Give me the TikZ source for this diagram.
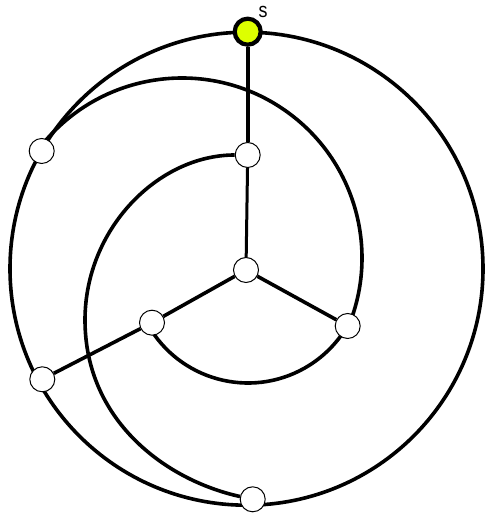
\documentclass[tikz,border=0pt]{standalone}
\usepackage{fontspec}
\setmainfont{Liberation Sans}
\usetikzlibrary{backgrounds}
\definecolor{srcfill}{RGB}{221,255,0}
\begin{document}
\begin{tikzpicture}[x=1pt,y=1pt,
  vtx/.style={circle,draw=black,fill=white,line width=1pt,minimum size=25pt,inner sep=0pt},
  srcvtx/.style={circle,draw=black,fill=srcfill,line width=4.2pt,minimum size=26pt,inner sep=0pt},
  edge/.style={draw=black,line width=3.6pt},
  lbl/.style={font=\fontsize{21}{21}\selectfont,inner sep=0pt}]
\useasboundingbox (0,0) rectangle (484,513);
% vertices
\node[srcvtx] (s) at (247.7,481.3) {};
\node[vtx] (a) at (41.7,362) {};
\node[vtx] (b) at (247.7,358) {};
\node[vtx] (c) at (246,243) {};
\node[vtx] (d) at (152,190.3) {};
\node[vtx] (e) at (347.7,187) {};
\node[vtx] (f) at (42.3,133.7) {};
\node[vtx] (g) at (252.7,13.7) {};
\node[lbl,xscale=0.85] (slabel) at (263,501) {s};
% centres of the circular connectors
\coordinate (O) at (246.5,244.3);
\coordinate (C1) at (182,255);
\coordinate (C2) at (248,245);
\coordinate (L) at (85,193);
\begin{scope}[on background layer]
  \fill[white] (0,0) rectangle (484,513);
  % outer ring through s, a, f, g
  \draw[edge] (O) circle[radius=236.5];
  % arc from a over the top to e
  \draw[edge] ([shift={(142.7:180)}]C1) arc[start angle=142.7,end angle=-22.3,radius=180];
  % inner arc from d below c to e
  \draw[edge] ([shift={(209.7:115)}]C2) arc[start angle=209.7,end angle=329.8,radius=115];
  % spiral from b round the left to g
  \draw[edge] (b) .. controls (158,358) and (85,284) .. (L)
                  .. controls (85,93) and (165,33) .. (g);
  % straight connectors
  \draw[edge,line width=3.9pt] (s) -- (b);
  \draw[edge,line width=3pt] (b) -- (c);
  \draw[edge] (c) -- (d);
  \draw[edge] (c) -- (e);
  \draw[edge] (d) -- (f);
\end{scope}
\end{tikzpicture}
\end{document}
